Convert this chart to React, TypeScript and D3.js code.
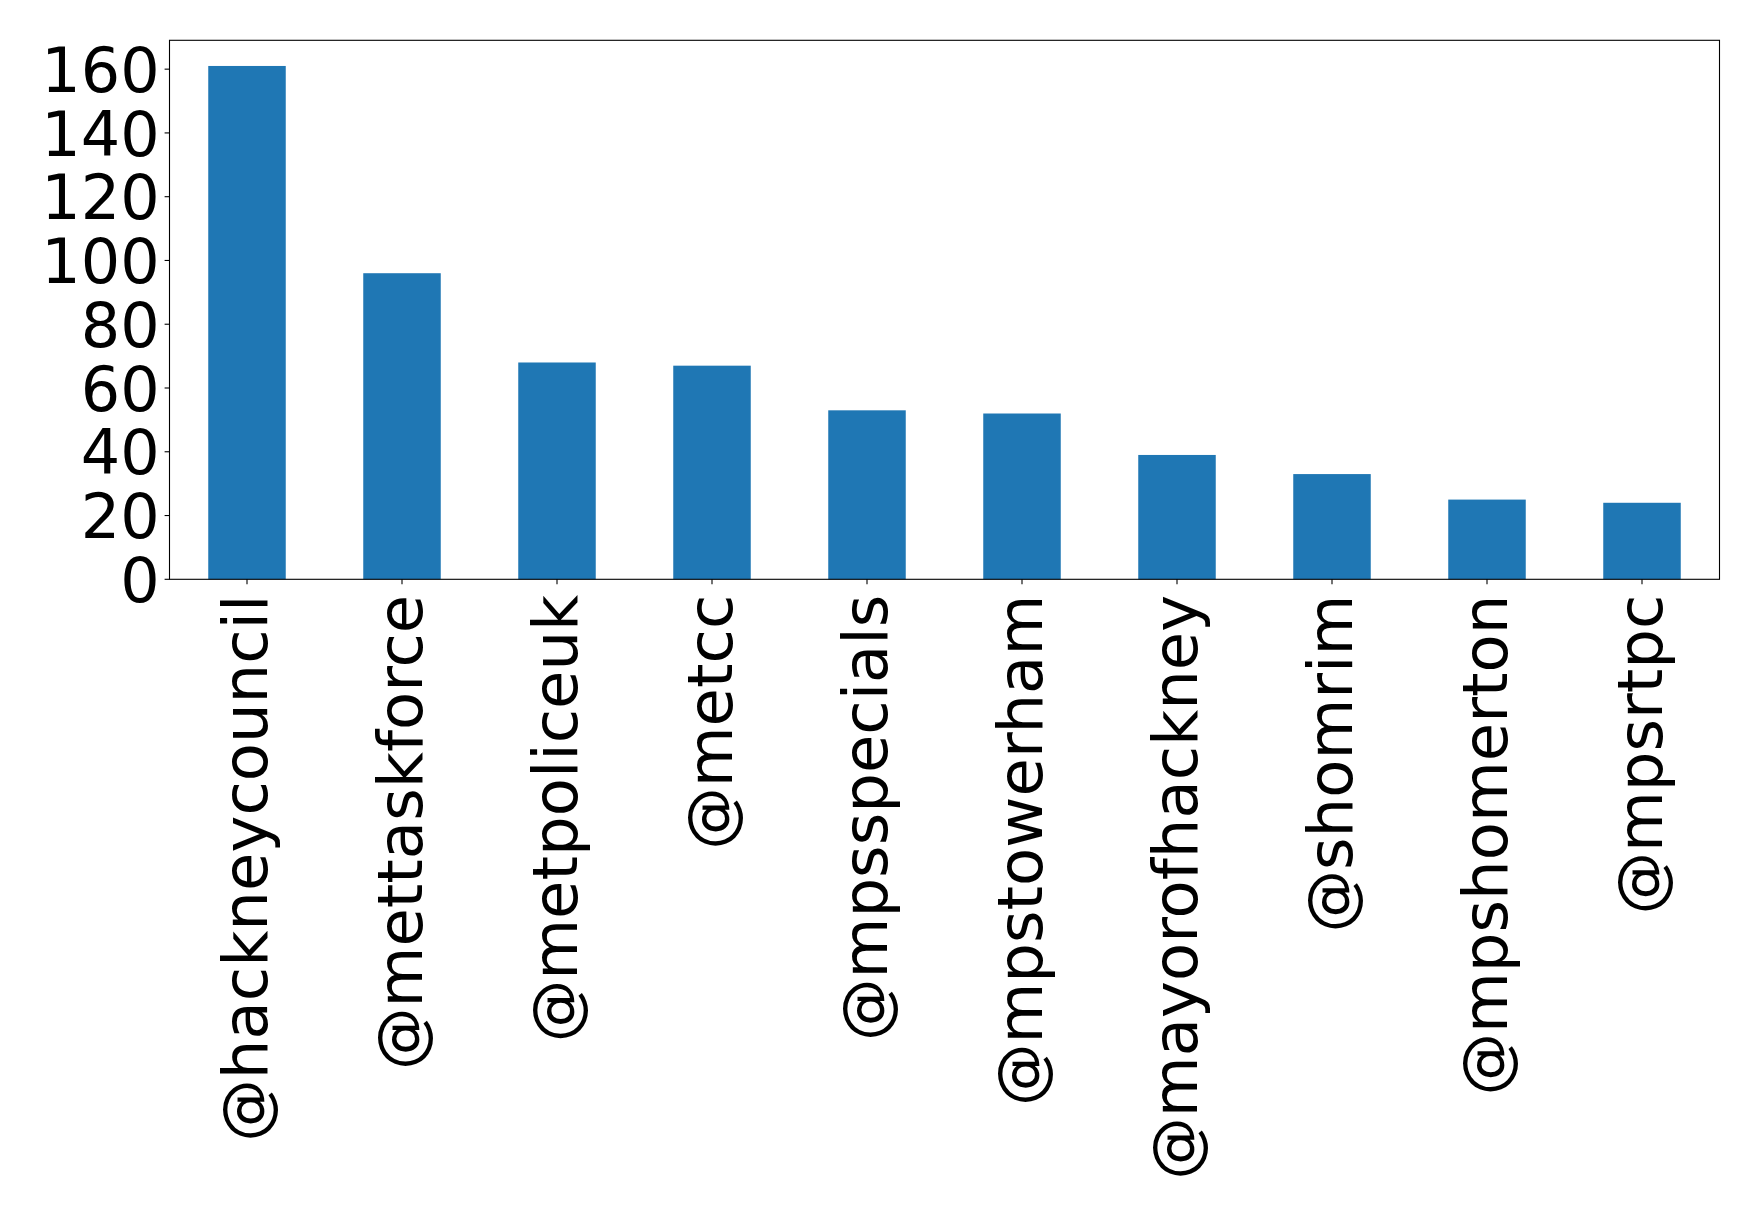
import React from "react";
import * as d3 from "d3";

const categories = [
  "@hackneycouncil",
  "@mettaskforce",
  "@metpoliceuk",
  "@metcc",
  "@mpsspecials",
  "@mpstowerham",
  "@mayorofhackney",
  "@shomrim",
  "@mpshomerton",
  "@mpsrtpc",
];
const values = [161, 96, 68, 67, 53, 52, 39, 33, 25, 24];
const yTicks = [0, 20, 40, 60, 80, 100, 120, 140, 160];

const W = 1758;
const H = 1213;
const left = 169.5;
const right = 1719.5;
const top = 40.3;
const bottom = 579.3;
const YFONT = 62;
const XFONT = 62.5;

export default function App() {
  const x = d3.scaleLinear().domain([-0.5, categories.length - 0.5]).range([left, right]);
  const ymax = d3.max(values)! * 1.05;
  const y = d3.scaleLinear().domain([0, ymax]).range([bottom, top]);
  const bw = x(0.25) - x(-0.25);
  return (
    <svg
      width={W}
      height={H}
      style={{ position: "absolute", left: 0, top: 0, background: "#fff" }}
      fontFamily="DejaVu Sans"
    >
      <rect x={0} y={0} width={W} height={H} fill="#fff" />
      {values.map((v, i) => (
        <rect
          key={i}
          x={x(i) - bw / 2}
          y={y(v)}
          width={bw}
          height={y(0) - y(v)}
          fill="#1f77b4"
        />
      ))}
      <rect
        x={left}
        y={top}
        width={right - left}
        height={bottom - top}
        fill="none"
        stroke="#000"
        strokeWidth={1.1}
      />
      {yTicks.map((t) => (
        <g key={t}>
          <line x1={left - 4.9} x2={left} y1={y(t)} y2={y(t)} stroke="#000" strokeWidth={1.1} />
          <text x={left - 9.8} y={y(t) + 0.3645 * YFONT} textAnchor="end" fontSize={YFONT} fill="#000">
            {t}
          </text>
        </g>
      ))}
      {categories.map((c, i) => (
        <g key={c}>
          <line x1={x(i)} x2={x(i)} y1={bottom} y2={bottom + 4.9} stroke="#000" strokeWidth={1.1} />
          <text
            transform={`translate(${x(i) + 20},${bottom + 15.4}) rotate(-90)`}
            textAnchor="end"
            fontSize={XFONT}
            fill="#000"
          >
            {c}
          </text>
        </g>
      ))}
    </svg>
  );
}
